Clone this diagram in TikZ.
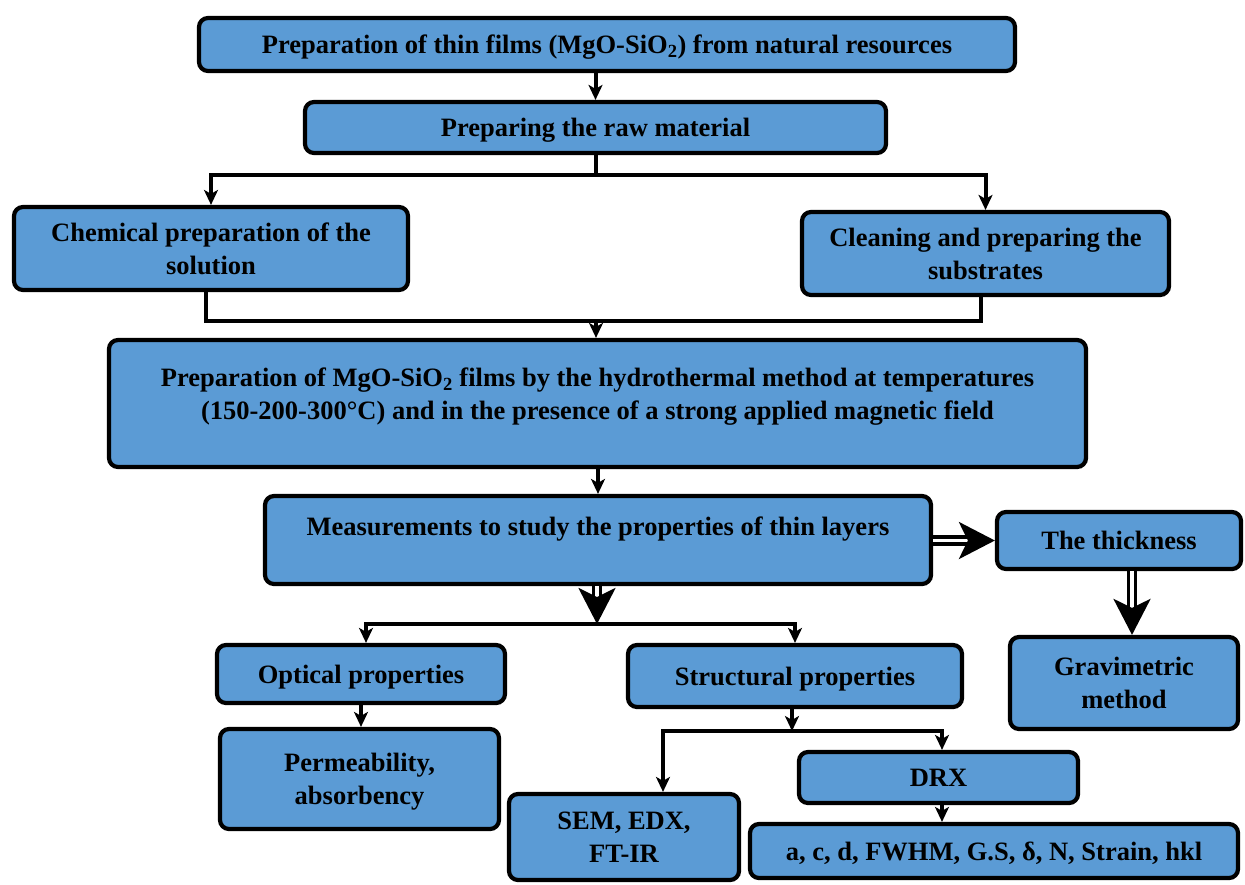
\documentclass[tikz,border=0pt]{standalone}
\usepackage{fontspec}
\setmainfont{Liberation Serif}
\usetikzlibrary{arrows.meta}
\definecolor{boxblue}{RGB}{91,155,213}
\begin{document}
\begin{tikzpicture}[x=1pt,y=-1pt,
  txt/.style={font=\bfseries\fontsize{26.5}{33}\selectfont, align=center},
  box/.style={txt, draw=black, line width=4.2pt, fill=boxblue, rounded corners=9pt, inner sep=0pt, text depth=0pt},
  conn/.style={line width=4pt, draw=black},
  arr/.style={conn, -{Stealth[length=15pt,width=14pt,inset=4pt]}},
  dblarr/.style={line width=3.5pt, draw=black, double=white, double distance=3.5pt, -{Stealth[length=36pt,width=37pt,inset=9pt]}},
]
\useasboundingbox (0,0) rectangle (1245,884);

\node[box, minimum width=816pt, minimum height=53pt] (b1) at (607,44.5) {Preparation of thin films (MgO-SiO\textsubscript{2}) from natural resources};
\node[box, minimum width=581pt, minimum height=51pt] (b2) at (595.5,127.5) {Preparing the raw material};
\node[box, minimum width=394pt, minimum height=83pt] (b3) at (211,248.5) {Chemical preparation of the\\solution};
\node[box, minimum width=367pt, minimum height=83pt] (b4) at (985.5,253.5) {Cleaning and preparing the\\substrates};
\node[box, minimum width=977pt, minimum height=127pt,
  label={[txt, yshift=6.5pt]center:{Preparation of MgO-SiO\textsubscript{2} films by the hydrothermal method at temperatures\\(150-200-300\textdegree C) and in the presence of a strong applied magnetic field}}] (b5) at (597.5,403.5) {};
\node[box, minimum width=666pt, minimum height=88pt,
  label={[txt, yshift=11pt]center:{Measurements to study the properties of thin layers}}] (b6) at (598,540) {};
\node[box, minimum width=244pt, minimum height=57pt] (b7) at (1119,540.5) {The thickness};
\node[box, minimum width=228pt, minimum height=92pt] (b8) at (1124,683) {Gravimetric\\method};
\node[box, minimum width=288pt, minimum height=58pt] (b9) at (361,674) {Optical properties};
\node[box, minimum width=279pt, minimum height=100pt] (b10) at (359.5,779) {Permeability,\\absorbency};
\node[box, minimum width=334pt, minimum height=62pt] (b11) at (795,676) {Structural properties};
\node[box, minimum width=279pt, minimum height=51pt] (b12) at (938.5,777.5) {DRX};
\node[box, minimum width=488pt, minimum height=54pt] (b13) at (994,851) {a, c, d, FWHM, G.S, δ, N, Strain, hkl};
\node[box, minimum width=230pt, minimum height=86pt] (b14) at (624,837) {SEM, EDX,\\FT-IR};

\coordinate (j1) at (595.5,175);
\coordinate (j2) at (596,321);
\coordinate (j3) at (597,624);
\coordinate (j4) at (792,731);

\draw[arr] (b2.north |- b1.south) -- (b2.north);
\draw[conn] (b2.south) -- (j1);
\draw[arr] (j1) -| (b3.north);
\draw[arr] (j1) -| (b4.north);
\draw[conn] ([xshift=-5pt]b3.south) |- (j2) -| ([xshift=-5pt]b4.south);
\draw[arr] (j2) -- (j2 |- b5.north);
\draw[arr] (b6.north |- b5.south) -- (b6.north);
\draw[dblarr] (b6.east |- b7.west) -- (b7.west);
\draw[dblarr] ([xshift=13pt]b7.south) -- ([xshift=13pt]b7.south |- b8.north);
\draw[dblarr] (j3 |- b6.south) -- (j3);
\draw[arr] (j3) -| ([xshift=5pt]b9.north);
\draw[arr] (j3) -| (b11.north);
\draw[arr] (b9.south) -- (b9.south |- b10.north);
\draw[arr] (j4 |- b11.south) -- (j4);
\draw[arr] (j4) -| ([xshift=39pt]b14.north);
\draw[arr] (j4) -| ([xshift=3.5pt]b12.north);
\draw[arr] ([xshift=3.5pt]b12.south) -- ([xshift=3.5pt]b12.south |- b13.north);
\end{tikzpicture}
\end{document}
